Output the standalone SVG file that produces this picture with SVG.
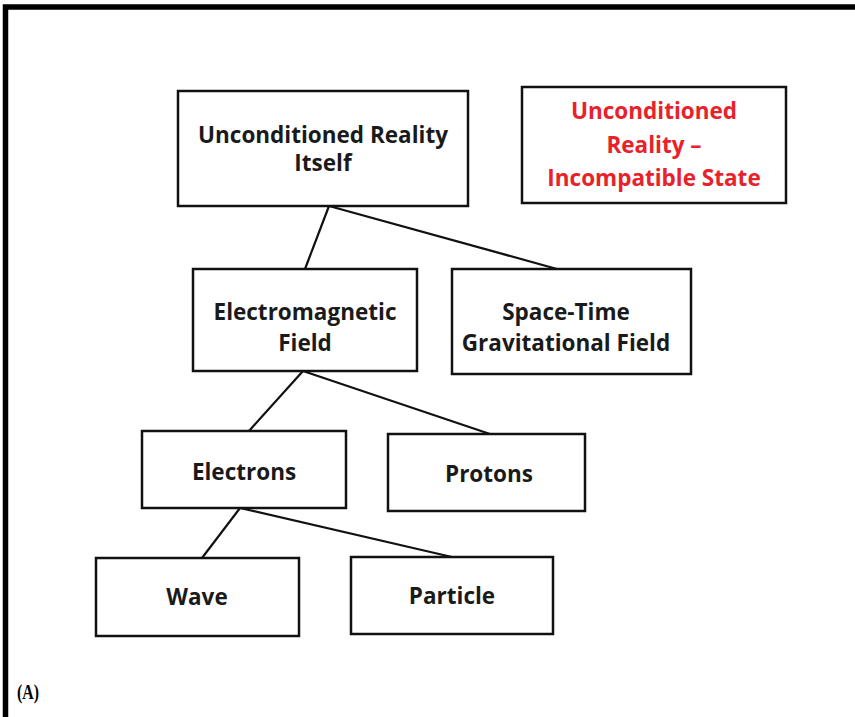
<svg xmlns="http://www.w3.org/2000/svg" width="855" height="717" viewBox="0 0 855 717">
<style>
.box{fill:#fff;stroke:#111;stroke-width:2.5}
.t{font-family:"Open Sans","Liberation Sans",sans-serif;font-weight:bold;font-size:22.5px;fill:#1a1a1a;text-anchor:middle}
.r{fill:#e8212a}
.c{stroke:#111;stroke-width:2.2;fill:none}
</style>
<rect x="0" y="0" width="855" height="717" fill="#fff"/>
<path d="M5.5,717 V7 H855" fill="none" stroke="#000" stroke-width="5.5"/>
<g id="connectors">
<line class="c" x1="329" y1="206" x2="305" y2="269"/>
<line class="c" x1="329" y1="206" x2="557" y2="269"/>
<line class="c" x1="303" y1="371" x2="249" y2="431"/>
<line class="c" x1="303" y1="371" x2="490" y2="434"/>
<line class="c" x1="240" y1="508" x2="202" y2="558"/>
<line class="c" x1="240" y1="508" x2="452" y2="557"/>
</g>
<g id="n1"><rect class="box" x="178" y="91" width="290" height="115"/>
<text class="t" x="323" y="143">Unconditioned Reality</text>
<text class="t" x="323" y="171">Itself</text></g>
<g id="n2"><rect class="box" x="522" y="87" width="264" height="116"/>
<text class="t r" x="654" y="119">Unconditioned</text>
<text class="t r" x="654" y="153">Reality –</text>
<text class="t r" x="654" y="186">Incompatible State</text></g>
<g id="n3"><rect class="box" x="193" y="269" width="224" height="102"/>
<text class="t" x="305" y="320">Electromagnetic</text>
<text class="t" x="305" y="351">Field</text></g>
<g id="n4"><rect class="box" x="452" y="269" width="239" height="105"/>
<text class="t" x="566" y="320">Space-Time</text>
<text class="t" x="566" y="351">Gravitational Field</text></g>
<g id="n5"><rect class="box" x="142" y="431" width="204" height="77"/>
<text class="t" x="244" y="480">Electrons</text></g>
<g id="n6"><rect class="box" x="388" y="434" width="197" height="77"/>
<text class="t" x="489" y="482">Protons</text></g>
<g id="n7"><rect class="box" x="96" y="558" width="203" height="78"/>
<text class="t" x="197" y="605">Wave</text></g>
<g id="n8"><rect class="box" x="351" y="557" width="202" height="77"/>
<text class="t" x="452" y="604">Particle</text></g>
<text x="17" y="699" font-family="'Liberation Serif',serif" font-weight="bold" font-size="22" textLength="22" lengthAdjust="spacingAndGlyphs" fill="#000">(A)</text>
</svg>
